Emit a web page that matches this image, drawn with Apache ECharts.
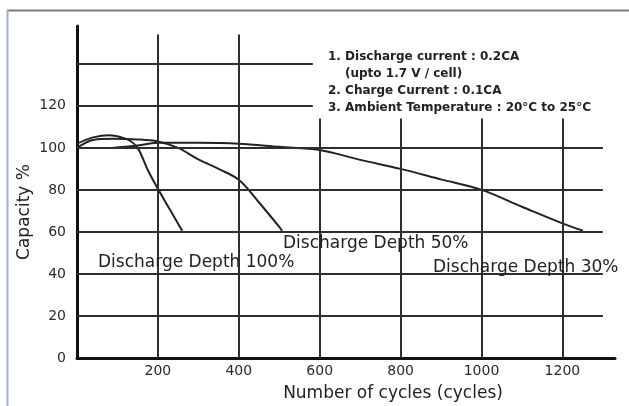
<!DOCTYPE html>
<html>
<head>
<meta charset="utf-8">
<script src="https://cdn.jsdelivr.net/npm/echarts@6/dist/echarts.min.js"></script>
<style>
  html, body { margin: 0; padding: 0; background: #fff; }
  #chart { width: 629px; height: 406px; }
</style>
</head>
<body>
<div id="chart"></div>
<script>
// Cycle life: remaining capacity (%) against number of cycles, per discharge depth
const depth100Cycles   = [0, 40, 80, 110, 130, 150, 175, 200, 230, 260];
const depth100Capacity = [102, 105, 106, 105, 103.5, 100, 89.5, 80.5, 70.5, 60.5];

const depth50Cycles    = [0, 40, 90, 150, 200, 250, 300, 350, 400, 450, 500, 507];
const depth50Capacity  = [100, 103.8, 104.3, 104, 103, 100, 94.5, 90, 84.8, 74, 62.4, 60.5];

const depth30Cycles    = [85, 145, 200, 300, 400, 500, 600, 700, 800, 900, 1000, 1100, 1200, 1251];
const depth30Capacity  = [100, 101, 102.4, 102.4, 102, 100.5, 99, 94.3, 90, 85, 80, 72, 64.1, 60.6];

// Axis ticks
const cycleTicks    = [200, 400, 600, 800, 1000, 1200];
const capacityTicks = [0, 20, 40, 60, 80, 100, 120];
const gridCapacity  = [20, 40, 60, 80, 100, 120, 140];

// Test conditions
const conditionLines = [
  '1. Discharge current : 0.2CA',
  '(upto 1.7 V / cell)',
  '2. Charge Current : 0.1CA',
  '3. Ambient Temperature : 20\u00B0C to 25\u00B0C'
];
const curveNames = ['Discharge Depth 100%', 'Discharge Depth 50%', 'Discharge Depth 30%'];

// Layout of the ruled grid (the note box cuts the upper right part away)
const X_MIN = 0, X_MAX = 1330, Y_MAX = 158;
const RULE_END = 1300;       // where the horizontal rules stop
const BOX_LEFT = 583;        // rules above 110 % stop at the note box
const TALL_TOP = 154;        // top of verticals left of the note box
const SHORT_TOP = 114;       // top of verticals below the note box

const INK = '#222';
const FONT = 'DejaVu Sans';

function pairs(xs, ys) { return xs.map((x, i) => [x, ys[i]]); }

const rules = [];
gridCapacity.forEach(v => {
  const end = v > 110 ? BOX_LEFT : RULE_END;
  rules.push([{ coord: [X_MIN, v] }, { coord: [end, v] }]);
});
cycleTicks.forEach(c => {
  const top = c < BOX_LEFT ? TALL_TOP : SHORT_TOP;
  rules.push([{ coord: [c, 0] }, { coord: [c, top] }]);
});

const curveStyle = { color: INK, width: 2 };

function curve(name, xs, ys) {
  return {
    name, type: 'line', data: pairs(xs, ys), smooth: 0.35,
    symbol: 'none', lineStyle: curveStyle, silent: true, z: 3
  };
}

function textEl(text, x, y, font, opts) {
  const o = opts || {};
  return {
    type: 'text', x, y, z: 10, rotation: o.rotation || 0,
    style: { text, fill: INK, font: `${font} "${FONT}"`, verticalAlign: 'middle', align: o.align || 'left' }
  };
}

const chart = echarts.init(document.getElementById('chart'), null, { renderer: 'canvas' });

chart.setOption({
  animation: false,
  backgroundColor: '#fff',
  grid: { left: 77, right: 14, top: 26, bottom: 48, containLabel: false },
  xAxis: {
    type: 'value', min: X_MIN, max: X_MAX, interval: 200,
    axisLine: { show: true, onZero: false, lineStyle: { color: '#111', width: 3 } },
    axisTick: { show: false },
    splitLine: { show: false },
    axisLabel: {
      margin: 6, color: '#2a2a2a', fontSize: 14, fontFamily: FONT,
      formatter: v => cycleTicks.includes(v) ? String(v) : ''
    }
  },
  yAxis: {
    type: 'value', min: 0, max: Y_MAX, interval: 20,
    axisLine: { show: true, lineStyle: { color: '#111', width: 3 } },
    axisTick: { show: false },
    splitLine: { show: false },
    axisLabel: {
      margin: 11, color: '#2a2a2a', fontSize: 14, fontFamily: FONT,
      formatter: v => capacityTicks.includes(v) ? String(v) : ''
    }
  },
  series: [
    {
      name: 'rules', type: 'line', data: [], silent: true, z: 1,
      markLine: {
        silent: true, animation: false, symbol: ['none', 'none'],
        label: { show: false },
        lineStyle: { color: '#2e2e2e', width: 2, type: 'solid' },
        emphasis: { disabled: true },
        data: rules
      }
    },
    curve(curveNames[0], depth100Cycles, depth100Capacity),
    curve(curveNames[1], depth50Cycles, depth50Capacity),
    curve(curveNames[2], depth30Cycles, depth30Capacity)
  ],
  graphic: [
    // page frame
    { type: 'line', shape: { x1: 7, y1: 10.5, x2: 629, y2: 10.5 }, style: { stroke: '#777', lineWidth: 2 } },
    { type: 'line', shape: { x1: 7.5, y1: 10, x2: 7.5, y2: 406 }, style: { stroke: '#9fb0c8', lineWidth: 2 } },
    // axis names
    textEl('Capacity %', 25, 212, '17px', { rotation: Math.PI / 2, align: 'center' }),
    textEl('Number of cycles (cycles)', 393, 394, '17px', { align: 'center' }),
    // test conditions
    textEl(conditionLines[0], 328, 57, 'bold 12px'),
    textEl(conditionLines[1], 345, 74, 'bold 12px'),
    textEl(conditionLines[2], 328, 91, 'bold 12px'),
    textEl(conditionLines[3], 328, 108, 'bold 12px'),
    // curve names
    textEl(curveNames[0], 98, 263, '17px'),
    textEl(curveNames[1], 283, 244, '17px'),
    textEl(curveNames[2], 433, 268, '17px')
  ]
});
</script>
</body>
</html>
